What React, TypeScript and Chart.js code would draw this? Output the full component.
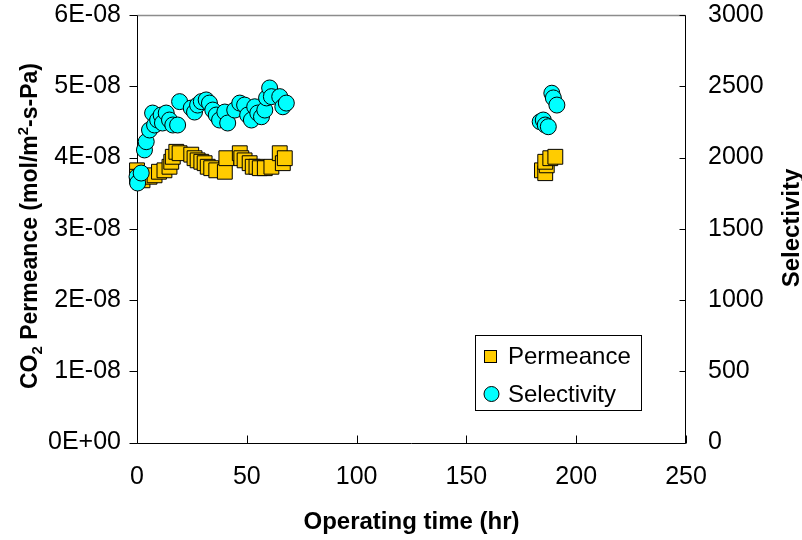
import React, { useEffect, useRef } from 'react';
import { Chart, registerables } from 'chart.js';

Chart.register(...registerables);

// Operating time (hr) and CO2 permeance (mol/m2-s-Pa)
const permTime = [0, 0, 2.5, 5.7, 8, 10, 12.5, 14.8, 15.6, 16.3, 17.9, 19.4, 24.7, 26.2, 27.6, 29.3, 30.8, 32.2, 33.8, 36.1, 40, 40.7, 46.8, 47.5, 49, 51.3, 52.7, 54.4, 55.9, 58.2, 61.2, 65, 66.4, 67.3, 184.4, 185.9, 186.6, 185.9, 188.2, 190.5];
const permValues = [3.82e-8, 3.73e-8, 3.68e-8, 3.73e-8, 3.75e-8, 3.8e-8, 3.82e-8, 3.87e-8, 3.94e-8, 4.01e-8, 4.08e-8, 4.06e-8, 4.04e-8, 3.99e-8, 3.96e-8, 3.94e-8, 3.92e-8, 3.87e-8, 3.85e-8, 3.82e-8, 3.8e-8, 3.99e-8, 4.06e-8, 3.99e-8, 3.96e-8, 3.92e-8, 3.87e-8, 3.87e-8, 3.85e-8, 3.85e-8, 3.87e-8, 4.06e-8, 3.92e-8, 3.99e-8, 3.82e-8, 3.78e-8, 3.89e-8, 3.94e-8, 3.99e-8, 4.01e-8];

// Operating time (hr) and selectivity
const selTime = [0, 0.3, 1.9, 3.4, 4.2, 5.7, 7.1, 8, 9.4, 11, 11.6, 13.3, 14.8, 16.3, 18.5, 19.4, 24.7, 26.2, 27.6, 29.3, 31.5, 33, 34.5, 36.1, 37.6, 40, 41.3, 44.5, 46.8, 49, 50.4, 52.1, 53.6, 55, 56.7, 58.2, 59, 60.4, 61.2, 65, 66.4, 68, 183.6, 185, 185.9, 187.3, 188.9, 189.6, 191.2];
const selValues = [1865, 1821, 1891, 2053, 2111, 2193, 2312, 2228, 2263, 2298, 2242, 2312, 2263, 2228, 2228, 2392, 2347, 2319, 2368, 2392, 2404, 2382, 2333, 2298, 2263, 2319, 2242, 2333, 2382, 2368, 2298, 2263, 2356, 2312, 2286, 2333, 2418, 2488, 2427, 2427, 2356, 2382, 2251, 2263, 2228, 2216, 2451, 2418, 2368];

const xTickLabels = ['0', '50', '100', '150', '200', '250'];
const permTickLabels = ['0E+00', '1E-08', '2E-08', '3E-08', '4E-08', '5E-08', '6E-08'];
const selTickLabels = ['0', '500', '1000', '1500', '2000', '2500', '3000'];

const seriesNames = ['Permeance', 'Selectivity'];
const FONT = '"Liberation Sans", Arial, sans-serif';

const framePlugin = {
  id: 'frame',
  beforeDatasetsDraw(chart: any) {
    const { ctx, chartArea } = chart;
    const { left, right, top, bottom } = chartArea;
    const L = Math.round(left) + 0.5;
    const R = Math.round(right) - 0.5;
    const B = Math.round(bottom) + 0.5;
    const T = Math.round(top) + 0.5;
    ctx.save();
    ctx.lineWidth = 1.5;
    ctx.strokeStyle = '#8c8c8c';
    ctx.beginPath();
    ctx.moveTo(L, T);
    ctx.lineTo(R, T);
    ctx.stroke();
    ctx.lineWidth = 1;
    ctx.strokeStyle = '#000';
    ctx.beginPath();
    ctx.moveTo(L, T);
    ctx.lineTo(L, B);
    ctx.lineTo(R, B);
    ctx.lineTo(R, T);
    // left ticks (outside)
    const y = chart.scales.y;
    y.ticks.forEach((t: any) => {
      const p = Math.round(y.getPixelForValue(t.value)) + 0.5;
      ctx.moveTo(L - 8, p);
      ctx.lineTo(L, p);
    });
    // right ticks (inside)
    const y1 = chart.scales.y1;
    y1.ticks.forEach((t: any) => {
      const p = Math.round(y1.getPixelForValue(t.value)) + 0.5;
      ctx.moveTo(R - 6, p);
      ctx.lineTo(R, p);
    });
    // bottom ticks (inside)
    const x = chart.scales.x;
    x.ticks.forEach((t: any) => {
      const p = Math.round(x.getPixelForValue(t.value)) + 0.5;
      ctx.moveTo(p, B - 8);
      ctx.lineTo(p, B);
    });
    ctx.stroke();
    ctx.restore();
  },
  afterDraw(chart: any) {
    const { ctx, chartArea } = chart;
    ctx.save();
    ctx.fillStyle = '#000';
    // x title
    ctx.font = `bold 24px ${FONT}`;
    ctx.textAlign = 'center';
    ctx.textBaseline = 'alphabetic';
    ctx.fillText('Operating time (hr)', (chartArea.left + chartArea.right) / 2, 529);

    // right title
    ctx.save();
    ctx.translate(799, 228);
    ctx.rotate(-Math.PI / 2);
    ctx.textAlign = 'center';
    ctx.fillText('Selectivity', 0, 0);
    ctx.restore();

    // left title with sub/superscript
    const big = `bold 23px ${FONT}`;
    const small = `bold 15px ${FONT}`;
    const parts: [string, string, number][] = [
      ['CO', big, 0],
      ['2', small, 5],
      [' Permeance (mol/m', big, 0],
      ['2', small, -9],
      ['-s-Pa)', big, 0],
    ];
    let total = 0;
    parts.forEach(([s, f]) => {
      ctx.font = f;
      total += ctx.measureText(s).width;
    });
    ctx.save();
    ctx.translate(37, 226);
    ctx.rotate(-Math.PI / 2);
    ctx.textAlign = 'left';
    let cx = -total / 2;
    parts.forEach(([s, f, dy]) => {
      ctx.font = f;
      ctx.fillText(s, cx, dy);
      cx += ctx.measureText(s).width;
    });
    ctx.restore();

    // legend
    const bx = 475.5, by = 335.5, bw = 166, bh = 75;
    ctx.fillStyle = '#fff';
    ctx.fillRect(bx, by, bw, bh);
    ctx.strokeStyle = '#000';
    ctx.lineWidth = 1;
    ctx.strokeRect(bx, by, bw, bh);
    ctx.fillStyle = '#FFCC00';
    ctx.fillRect(484.5, 350.5, 12, 12);
    ctx.strokeRect(484.5, 350.5, 12, 12);
    ctx.beginPath();
    ctx.arc(491.5, 394, 7.5, 0, Math.PI * 2);
    ctx.fillStyle = '#00FFFF';
    ctx.fill();
    ctx.stroke();
    ctx.fillStyle = '#000';
    ctx.font = `24px ${FONT}`;
    ctx.textAlign = 'left';
    ctx.fillText(seriesNames[0], 508, 364);
    ctx.fillText(seriesNames[1], 508, 401.5);
    ctx.restore();
  },
};

export default function App() {
  const ref = useRef<HTMLCanvasElement | null>(null);
  useEffect(() => {
    if (!ref.current) return;
    const tickFont = { family: FONT, size: 25 };
    const chart = new Chart(ref.current, {
      type: 'scatter',
      data: {
        datasets: [
          {
            label: seriesNames[0],
            data: permTime.map((t, i) => ({ x: t, y: permValues[i] })),
            yAxisID: 'y',
            pointStyle: 'rect',
            pointRadius: 10.5,
            pointHoverRadius: 10.5,
            backgroundColor: '#FFCC00',
            borderColor: '#000',
            borderWidth: 1,
            order: 2,
            clip: false,
          } as any,
          {
            label: seriesNames[1],
            data: selTime.map((t, i) => ({ x: t, y: selValues[i] })),
            yAxisID: 'y1',
            pointStyle: 'circle',
            pointRadius: 8,
            pointHoverRadius: 8,
            backgroundColor: '#00FFFF',
            borderColor: '#000',
            borderWidth: 1,
            order: 1,
            clip: false,
          } as any,
        ],
      },
      options: {
        responsive: false,
        animation: false,
        devicePixelRatio: 1,
        layout: { padding: { top: 15, left: 0, right: 0, bottom: 0 } },
        plugins: { legend: { display: false }, tooltip: { enabled: false } },
        scales: {
          x: {
            type: 'linear',
            min: 0,
            max: 250,
            ticks: {
              stepSize: 50,
              font: tickFont,
              color: '#000',
              padding: 20,
              maxRotation: 0,
              callback: (_v: any, i: number) => xTickLabels[i],
            },
            grid: { display: false, drawTicks: false },
            border: { display: false },
            afterFit: (s: any) => {
              s.height = 97.5;
              s.paddingLeft = 0;
              s.paddingRight = 0;
            },
          },
          y: {
            type: 'linear',
            position: 'left',
            min: 0,
            max: 6e-8,
            ticks: {
              stepSize: 1e-8,
              font: tickFont,
              color: '#000',
              padding: 16,
              callback: (_v: any, i: number) => permTickLabels[i],
            },
            grid: { display: false, drawTicks: false },
            border: { display: false },
            afterFit: (s: any) => {
              s.width = 137;
              s.paddingTop = 0;
              s.paddingBottom = 0;
            },
          },
          y1: {
            type: 'linear',
            position: 'right',
            min: 0,
            max: 3000,
            ticks: {
              stepSize: 500,
              font: tickFont,
              color: '#000',
              padding: 22,
              callback: (_v: any, i: number) => selTickLabels[i],
            },
            grid: { display: false, drawTicks: false },
            border: { display: false },
            afterFit: (s: any) => {
              s.width = 116;
              s.paddingTop = 0;
              s.paddingBottom = 0;
            },
          },
        },
      } as any,
      plugins: [framePlugin],
    });
    return () => chart.destroy();
  }, []);
  return (
    <div style={{ position: 'absolute', left: 0, top: 0, width: 802, height: 540, background: '#fff' }}>
      <canvas ref={ref} width={802} height={540} style={{ width: 802, height: 540, display: 'block' }} />
    </div>
  );
}
